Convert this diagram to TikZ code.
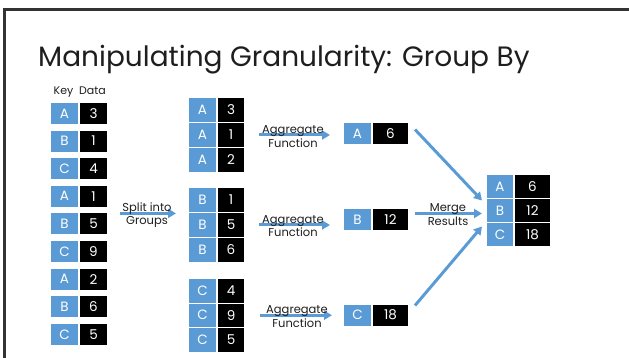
\documentclass[tikz,border=0pt]{standalone}
\usepackage{fontspec}
\setmainfont{Poppins}
\usetikzlibrary{arrows.meta,calc}
\definecolor{keyblue}{HTML}{5B9BD5}
\definecolor{framegray}{HTML}{333333}
\definecolor{inkgray}{HTML}{1E1E1E}

% one key/value pair: name, x, y, key width, value width, height, key, value
\newcommand\kvrow[8]{%
  \node[keycell, minimum width=#4pt, minimum height=#6pt] (#1k) at (#2,#3) {#7};
  \node[valcell, minimum width=#5pt, minimum height=#6pt] (#1v) at (#1k.north east) {#8};}

\begin{document}
\begin{tikzpicture}[x=1pt,y=-1pt,
  cellfont/.style={font=\fontsize{13.5}{13.5}\selectfont},
  keycell/.style={fill=keyblue, draw=white, line width=1pt, text=white, cellfont,
                  inner sep=0pt, anchor=north west},
  valcell/.style={fill=black, draw=white, line width=1pt, text=white, cellfont,
                  inner sep=0pt, anchor=north west},
  flow/.style={draw=keyblue, line width=3pt, -{Triangle[width=9pt,length=8pt]}},
  lbl/.style={font=\fontsize{11.5}{13.5}\selectfont, text=inkgray, align=center, inner sep=0pt},
  hdr/.style={font=\fontsize{11}{12}\selectfont, text=inkgray, anchor=base, inner sep=0pt},
]
\useasboundingbox (0,0) rectangle (629,358);

% slide frame
\draw[framegray, line width=2.2pt] (4.5,358) |- (629,9.5);

% title
\node[anchor=base west, inner sep=0pt, text=inkgray, font=\fontsize{28}{30}\selectfont]
  (title) at (38,67) {Manipulating Granularity: Group By};

% column headers
\node[hdr] (keyhdr) at (63.5,95) {Key};
\node[hdr] (datahdr) at (92.5,95) {Data};

% input table
\kvrow{L1}{50}{102}{28}{28}{22}{A}{3}
\kvrow{L2}{50}{129.6}{28}{28}{22}{B}{1}
\kvrow{L3}{50}{157.2}{28}{28}{22}{C}{4}
\kvrow{L4}{50}{184.8}{28}{28}{22}{A}{1}
\kvrow{L5}{50}{212.4}{28}{28}{22}{B}{5}
\kvrow{L6}{50}{240}{28}{28}{22}{C}{9}
\kvrow{L7}{50}{267.6}{28}{28}{22}{A}{2}
\kvrow{L8}{50}{295.2}{28}{28}{22}{B}{6}
\kvrow{L9}{50}{322.8}{28}{28}{22}{C}{5}

% groups
\kvrow{gA1}{188}{97}{28}{27}{25}{A}{3}
\kvrow{gA2}{188}{122}{28}{27}{25}{A}{1}
\kvrow{gA3}{188}{147}{28}{27}{25}{A}{2}
\kvrow{gB1}{188}{187}{28}{27}{25}{B}{1}
\kvrow{gB2}{188}{212}{28}{27}{25}{B}{5}
\kvrow{gB3}{188}{237}{28}{27}{25}{B}{6}
\kvrow{gC1}{188}{278}{28}{27}{24.5}{C}{4}
\kvrow{gC2}{188}{302.5}{28}{27}{24.5}{C}{9}
\kvrow{gC3}{188}{327}{28}{27}{24.5}{C}{5}

% aggregated groups
\kvrow{rA}{343}{122}{28}{36}{22}{A}{6}
\kvrow{rB}{343}{208.5}{28}{36}{22}{B}{12}
\kvrow{rC}{343}{303.5}{28}{36}{22}{C}{18}

% merged result
\kvrow{fA}{486}{174}{27}{36}{24}{A}{6}
\kvrow{fB}{486}{198}{27}{36}{24}{B}{12}
\kvrow{fC}{486}{222}{27}{36}{24}{C}{18}

% split
\draw[flow] ($(L5v.north east)+(12,1)$) -- ($(L5v.north east -| gB1k.west)+(-12,1)$);
\node[lbl] (splitlbl) at (147,215) {Split into\\Groups};

% aggregate
\draw[flow] ([xshift=14pt]gA2v.east) -- ([xshift=-13pt]gA2v.east -| rAk.west);
\draw[flow] ([xshift=14pt]gB2v.east) -- ([xshift=-13pt]gB2v.east -| rBk.west);
\draw[flow] ([xshift=15pt]gC2v.east) -- ([xshift=-11pt]gC2v.east -| rCk.west);
\node[lbl] (agglblA) at (293,136.5) {Aggregate\\Function};
\node[lbl] (agglblB) at (293,226) {Aggregate\\Function};
\node[lbl] (agglblC) at (297,316.5) {Aggregate\\Function};

% merge
\draw[flow] ($(rAv.east)+(6,-4)$) -- ($(fBk.west)+(-4,-10)$);
\draw[flow] ($(rBv.east)+(6,-6.5)$) -- ($(fBk.west)+(-4,3)$);
\draw[flow] ($(rCv.east)+(6,-9.5)$) -- ($(fBk.west)+(-4,16)$);
\node[lbl] (mergelbl) at (448,214.5) {Merge\\Results};
\end{tikzpicture}
\end{document}
